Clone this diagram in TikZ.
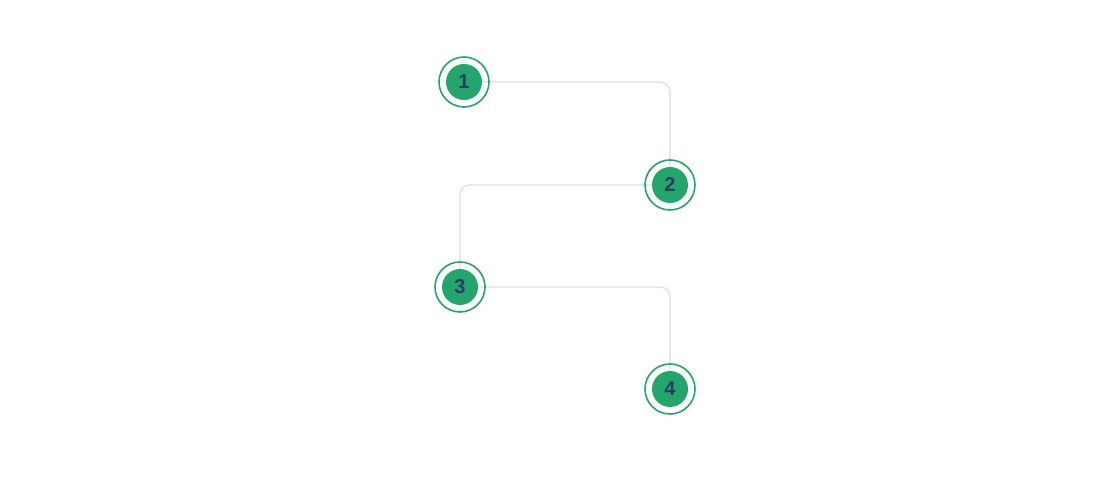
\documentclass[tikz,border=0pt]{standalone}
\usepackage{fontspec}
\setmainfont{Liberation Sans}
\begin{document}
\begin{tikzpicture}[x=1pt,y=-1pt,
  ring/.style={circle,draw=ringc,line width=1.6pt,minimum size=50pt,inner sep=0pt},
  dot/.style={circle,fill=ringc,minimum size=36pt,inner sep=0pt,text=numc,font=\bfseries\fontsize{20}{20}\selectfont},
  link/.style={draw=linec,line width=1.2pt,rounded corners=10pt}]
\definecolor{ringc}{HTML}{22A66B}
\definecolor{numc}{HTML}{2E3A66}
\definecolor{linec}{HTML}{DDDDDD}
\useasboundingbox (0,0) rectangle (1114,478);
\coordinate (p1) at (464,82);
\coordinate (p2) at (670,185);
\coordinate (p3) at (460,287);
\coordinate (p4) at (670,389);
\draw[link] (p1) -| (p2);
\draw[link] (p2) -| (p3);
\draw[link] (p3) -| (p4);
\foreach \i in {1,2,3,4}{
  \node[ring] (r\i) at (p\i) {};
  \node[dot] (n\i) at (p\i) {\i};
}
\end{tikzpicture}
\end{document}
